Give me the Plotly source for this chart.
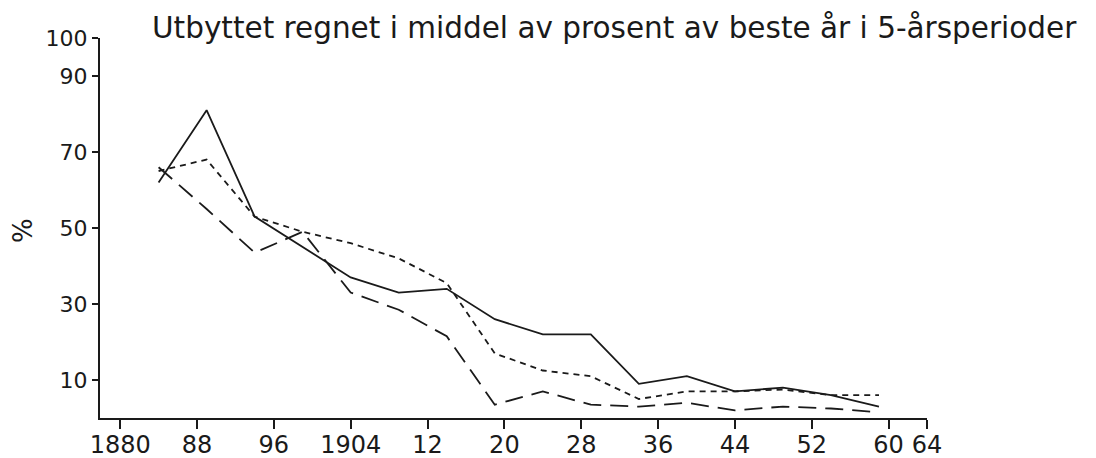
import plotly.graph_objects as go

years = [1884, 1889, 1894, 1899, 1904, 1909, 1914, 1919, 1924, 1929, 1934, 1939, 1944, 1949, 1954, 1959]
solid_vals = [62, 81, 53, 45, 37, 33, 34, 26, 22, 22, 9, 11, 7, 8, 6, 3]
dotted_vals = [65, 68, 53, 49, 46, 42, 35.5, 17, 12.5, 11, 5, 7, 7, 7.5, 6, 6]
dashed_vals = [66, 55, 43.5, 49, 33, 28.5, 21.5, 3.5, 7, 3.5, 3, 4, 2, 3, 2.5, 1.5]

x_tickvals = [1880, 1888, 1896, 1904, 1912, 1920, 1928, 1936, 1944, 1952, 1960, 1964]
x_ticktext = ["1880", "88", "96", "1904", "12", "20", "28", "36", "44", "52", "60", "64"]
y_tickvals = [10, 30, 50, 70, 90, 100]
y_ticktext = ["10", "30", "50", "70", "90", "100"]

title_text = "Utbyttet regnet i middel av prosent av beste år i 5-årsperioder"
y_label = "%"

FONT = "DejaVu Sans"
INK = "#1a1a1a"

W, H = 1088, 450  # page body has an 8px margin

fig = go.Figure()
fig.add_trace(go.Scatter(x=years, y=solid_vals, mode="lines",
                         line=dict(color=INK, width=1.8)))
fig.add_trace(go.Scatter(x=years, y=dotted_vals, mode="lines",
                         line=dict(color=INK, width=1.8, dash="6px,5px")))
fig.add_trace(go.Scatter(x=years, y=dashed_vals, mode="lines",
                         line=dict(color=INK, width=1.8, dash="18px,9px")))

fig.update_layout(
    width=W, height=H,
    margin=dict(l=92, r=W - 919, t=30, b=H - 410),
    paper_bgcolor="white", plot_bgcolor="white",
    showlegend=False,
    font=dict(family=FONT, color=INK, size=22),
    title=dict(text=title_text, x=144 / W, xanchor="left",
               y=1 - 20 / H, yanchor="middle", automargin=False,
               font=dict(family=FONT, size=29.5, color=INK)),
    xaxis=dict(range=[1877.9, 1964], tickvals=x_tickvals, ticktext=x_ticktext,
               showgrid=False, zeroline=False, showline=True, linecolor=INK,
               linewidth=2, ticks="outside", ticklen=9, tickwidth=2, tickcolor=INK,
               tickfont=dict(size=24), automargin=False, ticklabelstandoff=-5),
    yaxis=dict(range=[0, 100], tickvals=y_tickvals, ticktext=y_ticktext,
               showgrid=False, zeroline=False, showline=True, linecolor=INK,
               linewidth=2, ticks="outside", ticklen=6, tickwidth=2, tickcolor=INK,
               tickfont=dict(size=22), automargin=False),
    annotations=[dict(text=y_label, xref="paper", yref="paper", x=0, y=0.5,
                      xanchor="center", yanchor="middle",
                      xshift=-77, yshift=-3, showarrow=False, textangle=-90,
                      font=dict(family=FONT, size=26, color=INK))],
)

fig.write_html("out.html")
